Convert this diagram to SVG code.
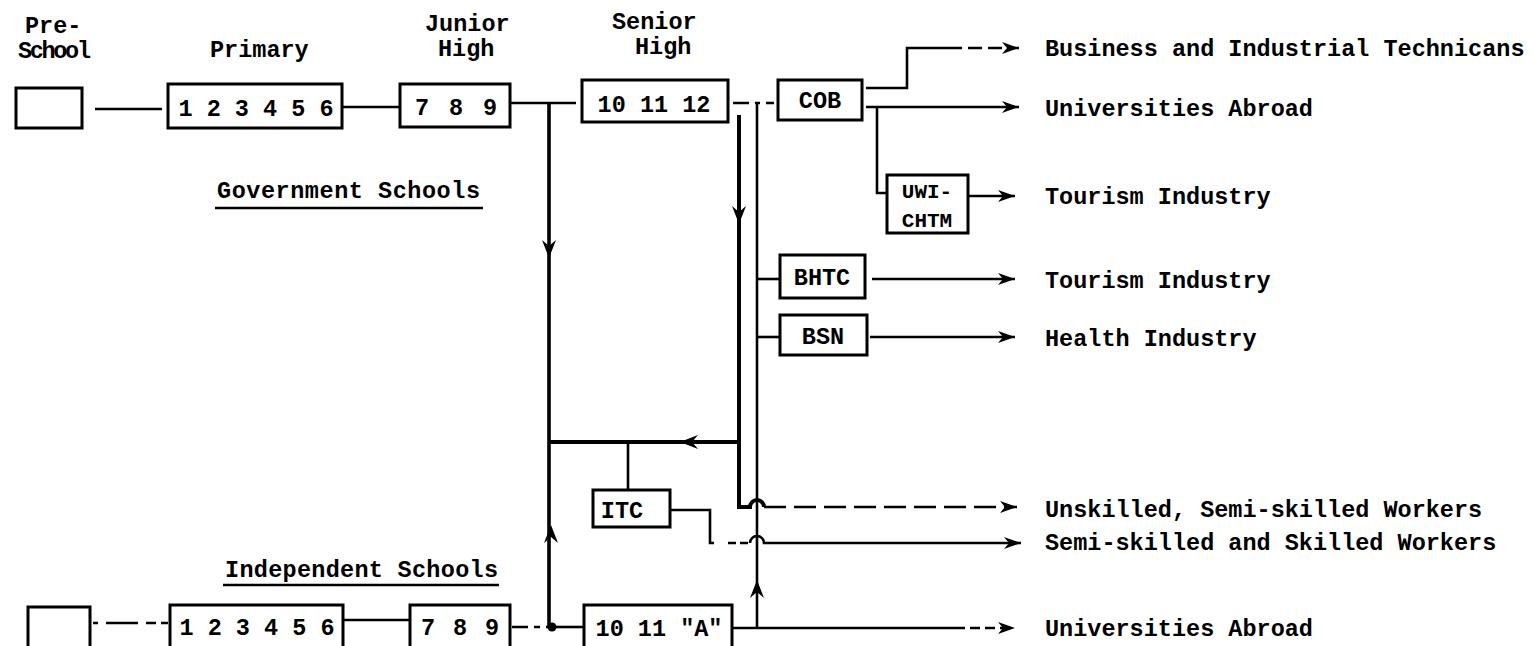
<svg xmlns="http://www.w3.org/2000/svg" width="1533" height="646" viewBox="0 0 1533 646">
<style>
  text { font-family: "Liberation Mono", "DejaVu Sans Mono", monospace; font-weight: bold; fill: #000; }
  .lbl { font-size: 23.5px; }
  .box { font-size: 23.5px; text-anchor: middle; }
  .sm { font-size: 21px; text-anchor: middle; }
  .node rect { fill: #fff; stroke: #000; stroke-width: 3; }
  .ln { fill: none; stroke: #000; stroke-width: 2.6; }
  .thick { fill: none; stroke: #000; stroke-width: 4; }
  .dash { stroke-dasharray: 22 8; }
  .ul { stroke: #000; stroke-width: 2.5; }
</style>
<defs>
  <marker id="arr" markerUnits="userSpaceOnUse" markerWidth="20" markerHeight="14" refX="17" refY="7" orient="auto">
    <path d="M0,1 L17,7 L0,13 L5,7 Z" fill="#000"/>
  </marker>
  <path id="head" d="M0,0 L-18,-7 L-12,0 L-18,7 Z" fill="#000"/>
</defs>
<rect width="1533" height="646" fill="#fff"/>

<g id="headings">
  <text class="lbl" x="25" y="33">Pre-</text>
  <text class="lbl" x="18" y="58" textLength="73">School</text>
  <text class="lbl" x="210" y="57">Primary</text>
  <text class="lbl" x="425" y="31">Junior</text>
  <text class="lbl" x="438" y="56">High</text>
  <text class="lbl" x="612" y="29">Senior</text>
  <text class="lbl" x="635" y="54">High</text>
  <text class="lbl" x="217" y="198" textLength="263">Government Schools</text>
  <line class="ul" x1="215" y1="208" x2="483" y2="208"/>
  <text class="lbl" x="225" y="577" textLength="273">Independent Schools</text>
  <line class="ul" x1="223" y1="585" x2="499" y2="585"/>
</g>

<g id="outcomes">
  <text class="lbl" x="1045" y="56">Business and Industrial Technicans</text>
  <text class="lbl" x="1045" y="116">Universities Abroad</text>
  <text class="lbl" x="1045" y="204">Tourism Industry</text>
  <text class="lbl" x="1045" y="288">Tourism Industry</text>
  <text class="lbl" x="1045" y="346">Health Industry</text>
  <text class="lbl" x="1045" y="517">Unskilled, Semi-skilled Workers</text>
  <text class="lbl" x="1045" y="550">Semi-skilled and Skilled Workers</text>
  <text class="lbl" x="1045" y="636">Universities Abroad</text>
</g>

<g id="gov-preschool" class="node"><rect x="16" y="88" width="66" height="40"/></g>
<g id="gov-primary" class="node"><rect x="168" y="84" width="174" height="44"/><text class="box" x="256" y="116">1 2 3 4 5 6</text></g>
<g id="gov-junior" class="node"><rect x="400" y="84" width="110" height="43"/><text class="box" x="456" y="115" textLength="82">7 8 9</text></g>
<g id="gov-senior" class="node"><rect x="582" y="80" width="146" height="42"/><text class="box" x="654" y="112">10 11 12</text></g>
<g id="cob" class="node"><rect x="778" y="80" width="84" height="40"/><text class="box" x="820" y="108">COB</text></g>
<g id="uwi-chtm" class="node"><rect x="887" y="175" width="81" height="58"/><text class="sm" x="927" y="198">UWI-</text><text class="sm" x="927" y="227">CHTM</text></g>
<g id="bhtc" class="node"><rect x="780" y="255" width="85" height="43"/><text class="box" x="822" y="285">BHTC</text></g>
<g id="bsn" class="node"><rect x="780" y="315" width="87" height="40"/><text class="box" x="823" y="344">BSN</text></g>
<g id="itc" class="node"><rect x="593" y="490" width="77" height="37"/><text class="box" x="622" y="518">ITC</text></g>
<g id="ind-preschool" class="node"><rect x="28" y="607" width="62" height="48"/></g>
<g id="ind-primary" class="node"><rect x="170" y="605" width="173" height="48"/><text class="box" x="257" y="635">1 2 3 4 5 6</text></g>
<g id="ind-junior" class="node"><rect x="410" y="605" width="100" height="48"/><text class="box" x="460" y="635" textLength="78">7 8 9</text></g>
<g id="ind-senior" class="node"><rect x="584" y="605" width="148" height="48"/><text class="box" x="659" y="636">10 11 "A"</text></g>

<g id="connectors">
  <path class="ln" d="M95 109 H162"/>
  <path class="ln" d="M342 107 H400"/>
  <path class="ln" d="M510 103 H576"/>
  <path class="thick" style="stroke-width:3.6" d="M549 103 V628"/>
  <use href="#head" transform="translate(549,258) rotate(90)"/>
  <use href="#head" transform="translate(551,525) rotate(-90)"/>
  <path class="thick" d="M739 115 V507 H750 A7 7 0 0 1 764 507"/>
  <use href="#head" transform="translate(739,224) rotate(90)"/>
  <path class="ln dash" d="M764 507 H1017" marker-end="url(#arr)"/>
  <path class="thick" d="M739 442 H549"/>
  <use href="#head" transform="translate(680,442) rotate(180)"/>
  <path class="ln" d="M628 442 V490"/>
  <path class="ln" d="M670 510 H710 V543 H750"/>
  <path class="ln" style="stroke:#fff;stroke-width:4;stroke-dasharray:14 8 4 8" d="M714 543 H750"/>
  <path class="ln" d="M750 543 A7 7 0 0 1 764 543 H1021" marker-end="url(#arr)"/>
  <path class="ln" d="M757 103 V628"/>
  <use href="#head" transform="translate(757,580) rotate(-90)"/>
  <path class="ln" style="stroke-dasharray:16 6 5 6" d="M733 103 H774"/>
  <path class="ln" d="M757 279 H780"/>
  <path class="ln" d="M757 337 H780"/>
  <path class="ln" d="M866 88 H907 V48 H962"/>
  <path class="ln" style="stroke-dasharray:14 6" d="M968 48 H1019" marker-end="url(#arr)"/>
  <path class="ln" d="M866 107 H1019" marker-end="url(#arr)"/>
  <path class="ln" d="M877 107 V193 H887"/>
  <path class="ln" d="M968 196 H1015" marker-end="url(#arr)"/>
  <path class="ln" d="M872 279 H1015" marker-end="url(#arr)"/>
  <path class="ln" d="M870 337 H1015" marker-end="url(#arr)"/>
  <path class="ln" style="stroke-dasharray:5 8 32 8 10" d="M93 623 H168"/>
  <path class="ln" d="M343 620 H410"/>
  <path class="ln" style="stroke-dasharray:16 6 6 6" d="M512 627 H552"/>
  <path class="ln" d="M552 627 H584"/>
  <circle cx="552" cy="627" r="4.5" fill="#000"/>
  <path class="ln" d="M732 628 H955"/>
  <path class="ln" style="stroke-dasharray:10 5" d="M955 628 H1015" marker-end="url(#arr)"/>
</g>
</svg>
